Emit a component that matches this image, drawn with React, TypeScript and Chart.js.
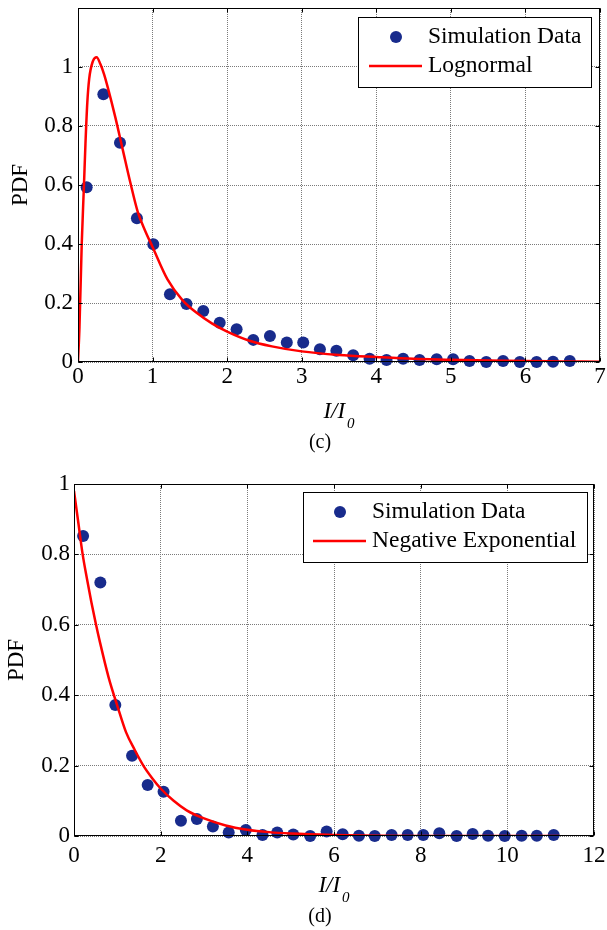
import React, { useEffect, useRef } from 'react';
import { Chart, registerables } from 'chart.js';

Chart.register(...registerables);

const FONT = "'Liberation Serif', 'Times New Roman', Times, serif";
const DOT = '#182b8c';
const RED = '#ff0000';
const GRID = '#7a7a7a';

// ---------- Panel (c): Lognormal ----------
const C_SIM_X = [0.116, 0.34, 0.563, 0.79, 1.01, 1.233, 1.455, 1.68, 1.9, 2.127, 2.35, 2.574, 2.8, 3.02, 3.244, 3.465, 3.69, 3.91, 4.138, 4.36, 4.58, 4.81, 5.03, 5.25, 5.475, 5.7, 5.925, 6.15, 6.37, 6.595];
const C_SIM_Y = [0.592, 0.908, 0.743, 0.487, 0.399, 0.23, 0.197, 0.173, 0.133, 0.111, 0.075, 0.088, 0.066, 0.066, 0.043, 0.038, 0.023, 0.011, 0.007, 0.011, 0.007, 0.009, 0.009, 0.003, 0.0, 0.003, 0.0, 0.0, 0.001, 0.003];
const C_FIT_X = [0, 0.02, 0.05, 0.08, 0.1, 0.125, 0.15, 0.2, 0.25, 0.3, 0.35, 0.4, 0.5, 0.6, 0.7, 0.8, 0.9, 1.0, 1.2, 1.4, 1.6, 1.8, 2.0, 2.3, 2.6, 3.0, 3.5, 4.0, 4.5, 5.0, 5.5, 6.0, 6.5, 7.0];
const C_FIT_Y = [0, 0.12, 0.4, 0.6, 0.74, 0.88, 0.96, 1.02, 1.033, 1.01, 0.975, 0.93, 0.83, 0.72, 0.61, 0.51, 0.445, 0.39, 0.28, 0.21, 0.165, 0.13, 0.103, 0.072, 0.053, 0.036, 0.024, 0.017, 0.011, 0.008, 0.005, 0.003, 0.002, 0.001];
const C_X_TICKS = [0, 1, 2, 3, 4, 5, 6, 7];
const C_X_LABELS = ['0', '1', '2', '3', '4', '5', '6', '7'];
const C_Y_TICKS = [0, 0.2, 0.4, 0.6, 0.8, 1, 1.2];
const C_Y_LABELS = ['0', '0.2', '0.4', '0.6', '0.8', '1', ''];
const C_LEGEND = ['Simulation Data', 'Lognormal'];
const C_CAPTION = '(c)';

// ---------- Panel (d): Negative Exponential ----------
const D_SIM_X = [0.21, 0.608, 0.954, 1.34, 1.7, 2.067, 2.468, 2.836, 3.205, 3.57, 3.965, 4.35, 4.69, 5.06, 5.45, 5.83, 6.2, 6.575, 6.94, 7.33, 7.7, 8.06, 8.43, 8.83, 9.2, 9.555, 9.94, 10.33, 10.68, 11.07];
const D_SIM_Y = [0.852, 0.72, 0.372, 0.228, 0.145, 0.126, 0.043, 0.048, 0.027, 0.01, 0.017, 0.003, 0.01, 0.004, 0.0, 0.013, 0.005, 0.001, 0.0, 0.003, 0.003, 0.003, 0.008, 0.0, 0.006, 0.001, 0.0, 0.001, 0.001, 0.003];
const D_FIT_X = [0, 0.1, 0.2, 0.3, 0.4, 0.5, 0.6, 0.8, 1.0, 1.2, 1.4, 1.6, 1.8, 2.0, 2.3, 2.6, 3.0, 3.5, 4.0, 4.5, 5.0, 6.0, 7.0, 8.0, 9.0, 10.0, 11.2];
const D_FIT_Y = [0.98, 0.89, 0.8, 0.73, 0.665, 0.605, 0.55, 0.45, 0.37, 0.295, 0.245, 0.2, 0.165, 0.135, 0.1, 0.073, 0.05, 0.03, 0.018, 0.011, 0.007, 0.003, 0.001, 0, 0, 0, 0];
const D_X_TICKS = [0, 2, 4, 6, 8, 10, 12];
const D_X_LABELS = ['0', '2', '4', '6', '8', '10', '12'];
const D_Y_TICKS = [0, 0.2, 0.4, 0.6, 0.8, 1];
const D_Y_LABELS = ['0', '0.2', '0.4', '0.6', '0.8', '1'];
const D_LEGEND = ['Simulation Data', 'Negative Exponential'];
const D_CAPTION = '(d)';

const X_TITLE_MAIN = 'I/I';
const X_TITLE_SUB = '0';
const Y_TITLE = 'PDF';

type PanelCfg = {
  top: number;
  height: number;
  simX: number[];
  simY: number[];
  fitX: number[];
  fitY: number[];
  xTicks: number[];
  xLabels: string[];
  yTicks: number[];
  yLabels: string[];
  legend: string[];
  caption: string;
  padTop: number;
  padRight: number;
  yAxisW: number;
  xAxisH: number;
  xTickPad: number;
  yTickPad: number;
  yTitlePad: number;
  legW: number;
  legH: number;
  legRightGap: number;
  legTopGap: number;
  legMarkX: number;
  legLineX1: number;
  legLineX2: number;
  legTextX: number;
};

const PANELS: PanelCfg[] = [
  {
    top: 0, height: 460,
    simX: C_SIM_X, simY: C_SIM_Y, fitX: C_FIT_X, fitY: C_FIT_Y,
    xTicks: C_X_TICKS, xLabels: C_X_LABELS, yTicks: C_Y_TICKS, yLabels: C_Y_LABELS,
    legend: C_LEGEND, caption: C_CAPTION,
    padTop: 8, padRight: 7, yAxisW: 78, xAxisH: 98,
    xTickPad: 1, yTickPad: 5, yTitlePad: 7,
    legW: 233, legH: 70, legRightGap: 9, legTopGap: 9,
    legMarkX: 38, legLineX1: 11, legLineX2: 64, legTextX: 70,
  },
  {
    top: 460, height: 470,
    simX: D_SIM_X, simY: D_SIM_Y, fitX: D_FIT_X, fitY: D_FIT_Y,
    xTicks: D_X_TICKS, xLabels: D_X_LABELS, yTicks: D_Y_TICKS, yLabels: D_Y_LABELS,
    legend: D_LEGEND, caption: D_CAPTION,
    padTop: 24, padRight: 13, yAxisW: 74, xAxisH: 94,
    xTickPad: 6, yTickPad: 4, yTitlePad: 3,
    legW: 284, legH: 70, legRightGap: 7, legTopGap: 8,
    legMarkX: 37, legLineX1: 10, legLineX2: 63, legTextX: 69,
  },
];

function makeDecor(p: PanelCfg) {
  return {
    id: 'decor',
    afterDraw(chart: any) {
      const { ctx, chartArea: a, scales } = chart;
      const xs = scales.x;
      const ys = scales.y;
      const L = Math.round(a.left) + 0.5;
      const R = Math.round(a.right) - 0.5;
      const T = Math.round(a.top) + 0.5;
      const B = Math.round(a.bottom) - 0.5;
      ctx.save();
      // axes box
      ctx.strokeStyle = '#000';
      ctx.lineWidth = 1;
      ctx.setLineDash([]);
      ctx.strokeRect(L, T, R - L, B - T);
      // inward tick marks
      ctx.beginPath();
      p.xTicks.forEach((v) => {
        const px = Math.round(xs.getPixelForValue(v)) + 0.5;
        ctx.moveTo(px, B); ctx.lineTo(px, B - 4);
        ctx.moveTo(px, T); ctx.lineTo(px, T + 4);
      });
      p.yTicks.forEach((v) => {
        const py = Math.round(ys.getPixelForValue(v)) + 0.5;
        ctx.moveTo(L, py); ctx.lineTo(L + 4, py);
        ctx.moveTo(R, py); ctx.lineTo(R - 4, py);
      });
      ctx.stroke();

      // legend
      const bx = Math.round(a.right - p.legRightGap - p.legW);
      const by = Math.round(a.top + p.legTopGap);
      ctx.fillStyle = '#fff';
      ctx.fillRect(bx, by, p.legW, p.legH);
      ctx.strokeStyle = '#000';
      ctx.lineWidth = 1;
      ctx.strokeRect(bx + 0.5, by + 0.5, p.legW, p.legH);
      const row1 = by + 20;
      const row2 = by + 49;
      ctx.fillStyle = DOT;
      ctx.beginPath();
      ctx.arc(bx + p.legMarkX, row1, 6, 0, Math.PI * 2);
      ctx.fill();
      ctx.strokeStyle = RED;
      ctx.lineWidth = 2.5;
      ctx.beginPath();
      ctx.moveTo(bx + p.legLineX1, row2);
      ctx.lineTo(bx + p.legLineX2, row2);
      ctx.stroke();
      ctx.fillStyle = '#000';
      ctx.font = `23.5px ${FONT}`;
      ctx.textAlign = 'left';
      ctx.textBaseline = 'middle';
      ctx.fillText(p.legend[0], bx + p.legTextX, row1);
      ctx.fillText(p.legend[1], bx + p.legTextX, row2);

      // x-axis title I/I_0
      const cx = (a.left + a.right) / 2;
      ctx.textBaseline = 'alphabetic';
      ctx.font = `italic 23px ${FONT}`;
      const wMain = ctx.measureText(X_TITLE_MAIN).width;
      ctx.font = `italic 15px ${FONT}`;
      const wSub = ctx.measureText(X_TITLE_SUB).width;
      const x0 = cx - (wMain + wSub + 2) / 2;
      const base = a.bottom + 56;
      ctx.font = `italic 23px ${FONT}`;
      ctx.fillText(X_TITLE_MAIN, x0, base);
      ctx.font = `italic 15px ${FONT}`;
      ctx.fillText(X_TITLE_SUB, x0 + wMain + 2, base + 10);

      // caption
      ctx.font = `20px ${FONT}`;
      ctx.textAlign = 'center';
      ctx.textBaseline = 'middle';
      ctx.fillText(p.caption, 320, a.bottom + 81);
      ctx.restore();
    },
  };
}

function Panel({ p }: { p: PanelCfg }) {
  const ref = useRef<HTMLCanvasElement | null>(null);
  useEffect(() => {
    if (!ref.current) return;
    const sim = p.simX.map((x, i) => ({ x, y: p.simY[i] }));
    const fit = p.fitX.map((x, i) => ({ x, y: p.fitY[i] }));
    const chart = new Chart(ref.current, {
      type: 'scatter',
      data: {
        datasets: [
          {
            label: p.legend[0],
            data: sim,
            showLine: false,
            pointRadius: 6,
            pointHoverRadius: 6,
            pointBackgroundColor: DOT,
            pointBorderColor: DOT,
            pointBorderWidth: 0,
            clip: false,
            order: 1,
          },
          {
            label: p.legend[1],
            data: fit,
            showLine: true,
            borderColor: RED,
            borderWidth: 2.5,
            pointRadius: 0,
            pointHoverRadius: 0,
            cubicInterpolationMode: 'monotone',
            order: 0,
          },
        ],
      } as any,
      options: {
        responsive: false,
        animation: false,
        events: [],
        layout: { padding: { top: p.padTop, right: p.padRight, left: 0, bottom: 0 } },
        plugins: { legend: { display: false }, tooltip: { enabled: false } },
        scales: {
          x: {
            type: 'linear',
            min: p.xTicks[0],
            max: p.xTicks[p.xTicks.length - 1],
            afterBuildTicks: (s: any) => { s.ticks = p.xTicks.map((v) => ({ value: v })); },
            afterFit: (s: any) => { s.height = p.xAxisH; s.paddingLeft = 0; s.paddingRight = 0; },
            ticks: {
              autoSkip: false,
              maxRotation: 0,
              padding: p.xTickPad,
              color: '#000',
              font: { family: FONT, size: 23 },
              callback: (_v: any, i: number) => p.xLabels[i],
            },
            grid: { color: GRID, lineWidth: 1, drawTicks: false },
            border: { display: false, dash: [1, 1] },
            title: { display: false },
          },
          y: {
            type: 'linear',
            min: p.yTicks[0],
            max: p.yTicks[p.yTicks.length - 1],
            afterBuildTicks: (s: any) => { s.ticks = p.yTicks.map((v) => ({ value: v })); },
            afterFit: (s: any) => { s.width = p.yAxisW; s.paddingTop = 0; s.paddingBottom = 0; },
            ticks: {
              autoSkip: false,
              padding: p.yTickPad,
              color: '#000',
              font: { family: FONT, size: 23 },
              callback: (_v: any, i: number) => p.yLabels[i],
            },
            grid: { color: GRID, lineWidth: 1, drawTicks: false },
            border: { display: false, dash: [1, 1] },
            title: {
              display: true,
              text: Y_TITLE,
              color: '#000',
              font: { family: FONT, size: 23 },
              padding: { top: p.yTitlePad, bottom: 0 },
            },
          },
        },
      } as any,
      plugins: [makeDecor(p)],
    });
    return () => chart.destroy();
  }, [p]);
  return (
    <canvas
      ref={ref}
      width={607}
      height={p.height}
      style={{ position: 'absolute', left: 0, top: p.top, width: 607, height: p.height, display: 'block' }}
    />
  );
}

export default function App() {
  return (
    <div style={{ position: 'absolute', left: 0, top: 0, width: 607, height: 930, background: '#fff', overflow: 'hidden' }}>
      {PANELS.map((p, i) => (
        <Panel key={i} p={p} />
      ))}
    </div>
  );
}
